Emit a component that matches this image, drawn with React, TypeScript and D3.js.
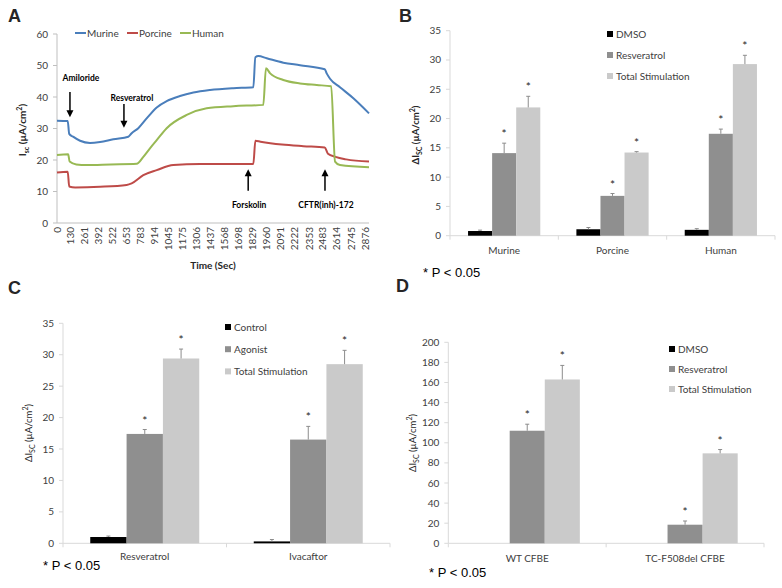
import * as d3 from "d3";

// ---- panel A: short-circuit current traces, [time (s), Isc] ----
const timeLabels = [0, 130, 261, 392, 522, 653, 783, 914, 1045, 1175, 1306, 1437, 1568, 1698, 1829, 1960, 2091, 2222, 2353, 2483, 2614, 2745, 2876];
const murine = [[0, 32.5], [100, 32.4], [114, 28.3], [150, 27.4], [215, 26.1], [308, 25.4], [402, 25.7], [526, 26.6], [666, 27.4], [697, 28.5], [759, 30.1], [837, 33.2], [931, 36.7], [1024, 38.7], [1148, 40.3], [1273, 41.4], [1429, 42.2], [1646, 42.8], [1833, 43.1], [1852, 52.6], [1880, 53.0], [1958, 52.3], [2113, 50.9], [2269, 50.1], [2500, 48.8], [2518, 47.5], [2549, 45.8], [2642, 43.1], [2767, 39.6], [2913, 34.8]];
const porcine = [[0, 16.0], [100, 16.3], [114, 11.6], [170, 11.3], [402, 11.5], [650, 12.1], [697, 12.6], [806, 15.2], [931, 16.8], [1086, 18.4], [1335, 18.7], [1833, 18.7], [1852, 26.1], [1900, 25.8], [2100, 24.9], [2300, 24.4], [2500, 24.0], [2530, 22.0], [2600, 21.0], [2700, 20.2], [2913, 19.5]];
const human = [[0, 21.6], [104, 21.8], [118, 19.5], [180, 18.6], [277, 18.4], [500, 18.6], [744, 18.8], [806, 21.0], [868, 23.7], [931, 26.3], [1024, 30.1], [1211, 34.3], [1397, 36.4], [1646, 37.1], [1926, 37.5], [1951, 49.1], [1990, 47.5], [2113, 45.4], [2269, 44.3], [2425, 43.8], [2560, 43.4], [2596, 19.5], [2642, 18.4], [2913, 17.7]];
const traceNames = ["Murine", "Porcine", "Human"];
const traceColors = ["#4A7EBB", "#BE4B48", "#98B954"];
// arrows: label, time, tail value, tip value, label value
const arrows: [string, number, number, number, number][] = [
  ["Amiloride", 121, 41.6, 33.6, 46.0],
  ["Resveratrol", 625, 37.8, 30.2, 39.6],
  ["Forskolin", 1785, 10.2, 17.1, 5.8],
  ["CFTR(inh)-172", 2502, 10.2, 17.1, 5.8],
];

// ---- panel B ----
const bCats = ["Murine", "Porcine", "Human"];
const bSeries = ["DMSO", "Resveratrol", "Total Stimulation"];
const bVals = [[0.8, 1.1, 1.0], [14.1, 6.8, 17.4], [21.9, 14.2, 29.3]];
const bErr = [[0.15, 0.3, 0.2], [1.7, 0.4, 0.8], [1.9, 0.15, 1.5]];

// ---- panel C ----
const cCats = ["Resveratrol", "Ivacaftor"];
const cSeries = ["Control", "Agonist", "Total Stimulation"];
const cVals = [[1.0, 0.3], [17.4, 16.5], [29.4, 28.5]];
const cErr = [[0.15, 0.3], [0.7, 2.1], [1.5, 2.2]];

// ---- panel D ----
const dCats = ["WT CFBE", "TC-F508del CFBE"];
const dSeries = ["DMSO", "Resveratrol", "Total Stimulation"];
const dVals = [[0, 0], [112, 18.5], [163, 89.5]];
const dErr = [[0, 0], [6.5, 3.7], [14, 3.8]];

const barColors = ["#000000", "#8F8F8F", "#CACACA"];
const starred = [false, true, true];

const font = "Lato, 'Open Sans', sans-serif";
const arial = "'Liberation Sans', Arial, sans-serif";

function Unit({ sub }: { sub: string }) {
  return (
    <>
      <tspan dy={3} fontSize={7}>{sub}</tspan>
      <tspan dy={-3}> (µA/cm</tspan>
      <tspan dy={-4} fontSize={7}>2</tspan>
      <tspan dy={4}>)</tspan>
    </>
  );
}

function TracePanel() {
  const x = d3.scaleLinear().domain([0, 2913]).range([57, 369]);
  const y = d3.scaleLinear().domain([0, 60]).range([223, 34]);
  const line = d3.line<number[]>().x((d) => x(d[0])).y((d) => y(d[1])).curve(d3.curveMonotoneX);
  const series = [murine, porcine, human];
  const legendX = [75, 127, 180];
  return (
    <g fontFamily={font}>
      <line x1={57} x2={57} y1={34} y2={223} stroke="#BFBFBF" />
      <line x1={57} x2={369} y1={223} y2={223} stroke="#BFBFBF" />
      {y.ticks(6).map((t) => (
        <g key={t}>
          <line x1={53} x2={57} y1={y(t)} y2={y(t)} stroke="#BFBFBF" />
          <text x={48} y={y(t)} dy="0.35em" textAnchor="end" fontSize={10} fill="#404040">{t}</text>
        </g>
      ))}
      {timeLabels.map((t) => (
        <text key={t} transform={`translate(${x(t)},227) rotate(-90)`} dy="0.35em" textAnchor="end" fontSize={10} fill="#404040">{t}</text>
      ))}
      <text x={213} y={269} textAnchor="middle" fontSize={10} fontWeight="bold" fill="#262626">Time (Sec)</text>
      <text transform="translate(26,130) rotate(-90)" textAnchor="middle" fontSize={10} fontWeight="bold" fill="#262626">
        I<Unit sub="sc" />
      </text>
      {series.map((s, i) => (
        <path key={i} d={line(s) || ""} fill="none" stroke={traceColors[i]} strokeWidth={2} />
      ))}
      {traceNames.map((n, i) => (
        <g key={n}>
          <line x1={legendX[i]} x2={legendX[i] + 11} y1={33} y2={33} stroke={traceColors[i]} strokeWidth={2} />
          <text x={legendX[i] + 12} y={33} dy="0.35em" fontSize={10} fill="#404040">{n}</text>
        </g>
      ))}
      {arrows.map(([name, t, tail, tip, lab]) => {
        const down = tip < tail;
        const yt = y(tip);
        const head = down ? `M${x(t) - 3.5},${yt - 7} L${x(t) + 3.5},${yt - 7} L${x(t)},${yt} Z` : `M${x(t) - 3.5},${yt + 7} L${x(t) + 3.5},${yt + 7} L${x(t)},${yt} Z`;
        return (
          <g key={name}>
            <line x1={x(t)} x2={x(t)} y1={y(tail)} y2={down ? yt - 6 : yt + 6} stroke="#000" strokeWidth={1.5} />
            <path d={head} fill="#000" />
            <text x={name === "Amiloride" ? x(t) + 11 : x(t) + (name === "Resveratrol" ? 8 : 1)} y={y(lab)} dy="0.35em" textAnchor="middle" fontSize={8.5} fontWeight="bold" fill="#000">{name}</text>
          </g>
        );
      })}
    </g>
  );
}

type BarCfg = {
  cats: string[]; series: string[]; vals: number[][]; err: number[][];
  yMax: number; step: number; xr: [number, number]; yr: [number, number];
  legend: [number, number]; legendGap: number; ylab: [number, number]; note: [number, number];
  catY: number; boldLab: boolean;
};

function BarPanel({ c }: { c: BarCfg }) {
  const x = d3.scaleBand().domain(c.cats).range(c.xr);
  const y = d3.scaleLinear().domain([0, c.yMax]).range(c.yr);
  const bw = x.bandwidth() / 4.5;
  const inner = d3.scaleBand().domain(c.series).range([0, bw * 3]);
  const off = (x.bandwidth() - bw * 3) / 2;
  const ticks = d3.range(0, c.yMax + c.step / 2, c.step);
  const axisC = "#D9D9D9";
  return (
    <g fontFamily={font}>
      <line x1={c.xr[0]} x2={c.xr[0]} y1={c.yr[1]} y2={c.yr[0]} stroke={axisC} />
      <line x1={c.xr[0]} x2={c.xr[1]} y1={c.yr[0]} y2={c.yr[0]} stroke={axisC} />
      {ticks.map((t) => (
        <g key={t}>
          <line x1={c.xr[0] - 4} x2={c.xr[0]} y1={y(t)} y2={y(t)} stroke={axisC} />
          <text x={c.xr[0] - 9} y={y(t)} dy="0.35em" textAnchor="end" fontSize={10} fill="#404040">{t}</text>
        </g>
      ))}
      {[...c.cats.map((k) => x(k) as number), c.xr[1]].map((v, i) => (
        <line key={i} x1={v} x2={v} y1={c.yr[0]} y2={c.yr[0] + 4} stroke={axisC} />
      ))}
      {c.cats.map((k) => (
        <text key={k} x={(x(k) as number) + x.bandwidth() / 2} y={c.catY} textAnchor="middle" fontSize={10} fill="#404040">{k}</text>
      ))}
      {c.series.map((s, si) =>
        c.cats.map((k, ci) => {
          const v = c.vals[si][ci];
          const e = c.err[si][ci];
          const bx = (x(k) as number) + off + (inner(s) as number);
          const cx = bx + bw / 2;
          const top = y(v + e);
          return (
            <g key={s + k}>
              {v > 0 && <rect x={bx} y={y(v)} width={bw} height={y(0) - y(v)} fill={barColors[si]} />}
              {e > 0 && (
                <>
                  <line x1={cx} x2={cx} y1={y(v)} y2={top} stroke="#8C8C8C" />
                  <line x1={cx - 2} x2={cx + 2} y1={top} y2={top} stroke="#8C8C8C" />
                </>
              )}
              {starred[si] && v > 0 && (
                <text x={cx} y={top - 5} textAnchor="middle" fontSize={12} fill="#262626">*</text>
              )}
            </g>
          );
        })
      )}
      {c.series.map((s, i) => (
        <g key={s}>
          <rect x={c.legend[0]} y={c.legend[1] + i * c.legendGap - 3} width={6} height={6} fill={barColors[i]} />
          <text x={c.legend[0] + 9} y={c.legend[1] + i * c.legendGap} dy="0.35em" fontSize={10} fill="#404040">{s}</text>
        </g>
      ))}
      <text transform={`translate(${c.ylab[0]},${c.ylab[1]}) rotate(-90)`} textAnchor="middle" fontSize={9.5} fontWeight={c.boldLab ? "bold" : "normal"} fill="#262626">
        ΔI<Unit sub="SC" />
      </text>
      <text x={c.note[0]} y={c.note[1]} fontFamily={arial} fontSize={13} fill="#000">* P &lt; 0.05</text>
    </g>
  );
}

const panelB: BarCfg = { cats: bCats, series: bSeries, vals: bVals, err: bErr, yMax: 35, step: 5, xr: [450, 775], yr: [235.7, 30.7], legend: [607, 34], legendGap: 21, ylab: [419, 135], note: [423, 277], catY: 254, boldLab: true };
const panelC: BarCfg = { cats: cCats, series: cSeries, vals: cVals, err: cErr, yMax: 35, step: 5, xr: [63, 390], yr: [543.3, 323.3], legend: [225, 327], legendGap: 22.2, ylab: [32, 433], note: [43, 570], catY: 560, boldLab: false };
const panelD: BarCfg = { cats: dCats, series: dSeries, vals: dVals, err: dErr, yMax: 200, step: 20, xr: [448.3, 764], yr: [543.3, 342.3], legend: [669, 349], legendGap: 20, ylab: [416, 443], note: [429, 577], catY: 562, boldLab: false };

export default function App() {
  return (
    <div style={{ position: "absolute", left: 0, top: 0 }}>
      <svg width={782} height={588} style={{ display: "block", background: "#fff" }}>
        <rect width={782} height={588} fill="#fff" />
        <g fontFamily={arial} fontWeight="bold" fontSize={18} fill="#262626">
          <text x={8} y={22}>A</text>
          <text x={399} y={22}>B</text>
          <text x={8} y={294}>C</text>
          <text x={396} y={292}>D</text>
        </g>
        <TracePanel />
        <BarPanel c={panelB} />
        <BarPanel c={panelC} />
        <BarPanel c={panelD} />
      </svg>
    </div>
  );
}
